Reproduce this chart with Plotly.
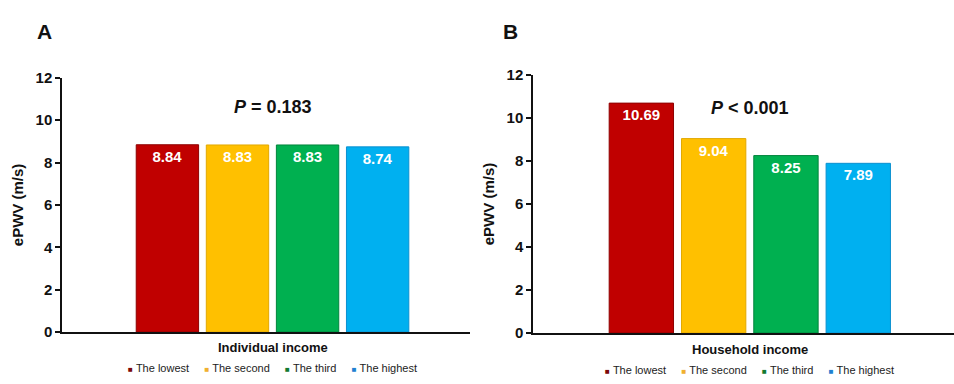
import plotly.graph_objects as go

categories = ["The lowest", "The second", "The third", "The highest"]
individual_income = [8.84, 8.83, 8.83, 8.74]
household_income = [10.69, 9.04, 8.25, 7.89]
p_texts = ["<i>P</i> = 0.183", "<i>P</i> < 0.001"]
panel_titles = ["Individual income", "Household income"]
panel_letters = ["A", "B"]
y_ticks = [0, 2, 4, 6, 8, 10, 12]

fill_colors = ["#C00000", "#FFC000", "#00B050", "#00B0F0"]
line_colors = ["#8E0000", "#E2A800", "#00843C", "#0A90D0"]
legend_colors = ["#7A0A0A", "#F0B030", "#127A30", "#2080D0"]

FONT = "Arial, Liberation Sans, sans-serif"

fig = go.Figure()
for p, (vals, axx, axy) in enumerate([(individual_income, "x", "y"), (household_income, "x2", "y2")]):
    for i, cat in enumerate(categories):
        fig.add_trace(go.Bar(
            x=[panel_titles[p]], y=[vals[i]], name=cat,
            text=[f"{vals[i]:.2f}"], textposition="inside", insidetextanchor="end",
            textfont=dict(family=FONT, size=15, color="white", weight="bold"),
            marker=dict(color=fill_colors[i], line=dict(color=line_colors[i], width=1)),
            xaxis=axx, yaxis=axy, showlegend=False,
        ))

axis_common = dict(showline=True, linecolor="#111", linewidth=1.5, showgrid=False, zeroline=False)
yaxis_common = dict(axis_common, range=[0, 12], tickvals=y_ticks, ticks="outside", ticklen=5,
                    tickwidth=1.5, tickcolor="#111",
                    tickfont=dict(family=FONT, size=15, color="#111", weight="bold"))

fig.update_layout(
    width=954, height=384, margin=dict(l=0, r=0, t=0, b=0),
    paper_bgcolor="white", plot_bgcolor="white",
    barmode="group", bargap=0.313, bargroupgap=0.11,
    xaxis=dict(axis_common, domain=[62/954, 470/954], type="category", range=[-0.516, 0.484],
               showticklabels=False, ticks="", anchor="y"),
    xaxis2=dict(axis_common, domain=[533/954, 1.0], type="category", range=[-0.515, 0.485],
                showticklabels=False, ticks="", anchor="y2"),
    yaxis=dict(yaxis_common, domain=[46/384, 312/384], anchor="x",
               title=dict(text="ePWV (m/s)", font=dict(family=FONT, size=15, color="#111", weight="bold"), standoff=8)),
    yaxis2=dict(yaxis_common, domain=[45/384, 315/384], anchor="x2",
                title=dict(text="ePWV (m/s)", font=dict(family=FONT, size=15, color="#111", weight="bold"), standoff=8)),
)

annotations = []
letter_x = [44/954, 511/954]
title_y = [354, 356]
legend_y = [376, 378]
p_y = [10.6, 10.44]
for p in range(2):
    xr = "x" if p == 0 else "x2"
    yr = "y" if p == 0 else "y2"
    common = dict(showarrow=False, xanchor="center", yanchor="middle")
    annotations.append(dict(common, text=f"<b>{panel_letters[p]}</b>", x=letter_x[p], y=1 - 24/384,
                            xref="paper", yref="paper",
                            font=dict(family=FONT, size=21, color="#111")))
    annotations.append(dict(common, text=f"<b>{p_texts[p]}</b>", x=panel_titles[p], y=p_y[p], xref=xr, yref=yr,
                            font=dict(family=FONT, size=18, color="#111")))
    annotations.append(dict(common, text=f"<b>{panel_titles[p]}</b>", x=panel_titles[p], y=1 - title_y[p]/384,
                            xref=xr, yref="paper",
                            font=dict(family=FONT, size=13, color="#111")))
    parts = []
    for i, cat in enumerate(categories):
        parts.append(f"<span style='color:{legend_colors[i]};font-size:8px'>\u25A0</span>\u00a0{cat}")
    legend_text = "\u00a0\u00a0\u00a0\u00a0\u00a0".join(parts)
    annotations.append(dict(common, text=legend_text, x=panel_titles[p], y=1 - legend_y[p]/384,
                            xref=xr, yref="paper",
                            font=dict(family=FONT, size=11, color="#222")))
fig.update_layout(annotations=annotations)

fig.write_html("out.html")
